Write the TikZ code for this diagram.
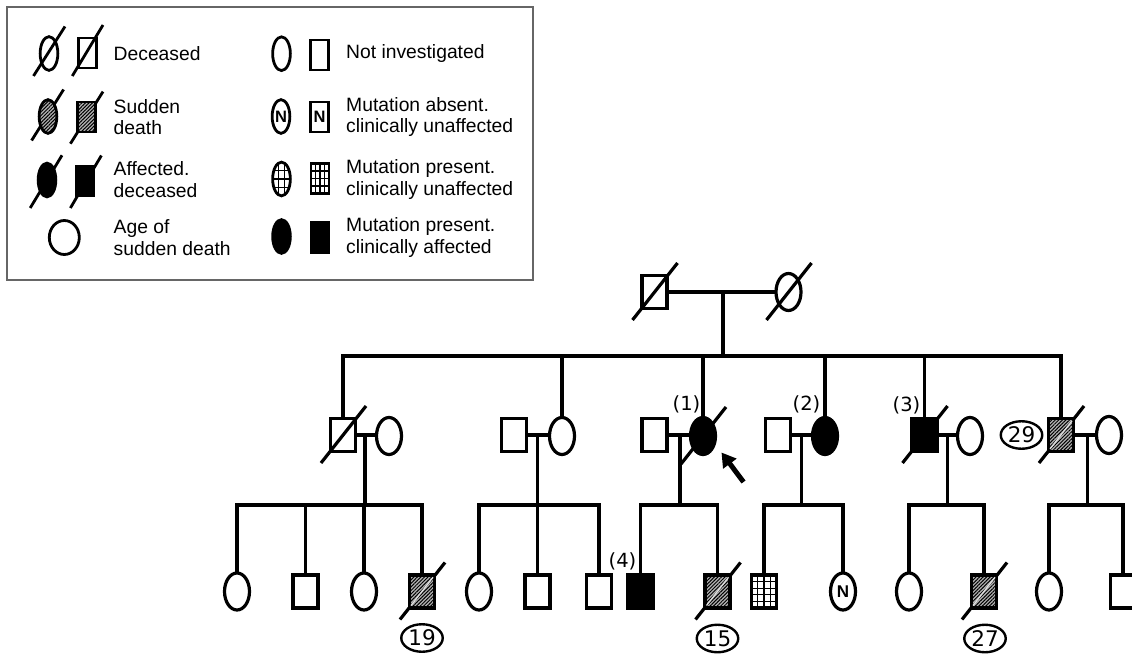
\documentclass[tikz,border=0pt]{standalone}
\usepackage{fontspec}
\setmainfont{Liberation Sans}
\newfontfamily\dvfont{DejaVu Sans}
\usetikzlibrary{shapes.geometric,patterns.meta,arrows.meta,calc}
\pgfdeclarelayer{bg}
\pgfsetlayers{bg,main}
\tikzset{
  base/.style={draw, inner sep=0pt, outer sep=0pt, line width=3.2pt},
  msq/.style={base, rectangle, minimum width=25pt, minimum height=33pt},
  fov/.style={base, ellipse, minimum width=25pt, minimum height=37pt},
  lsq/.style={base, rectangle, line width=2.8pt, minimum width=18pt, minimum height=30pt},
  lov/.style={base, ellipse, line width=2.8pt, minimum width=17.7pt, minimum height=33.7pt},
  aff/.style={fill=black},
  sud/.style={preaction={fill=gray!60}, pattern={Lines[angle=45,distance=2.5pt,line width=1pt]}, pattern color=black},
  gridfill/.style 2 args={path picture={
    \foreach \k in {1,...,#1}{
      \draw[line width=1.2pt] ($(path picture bounding box.north west)!{\k/(#1+1)}!(path picture bounding box.north east)$) -- ++(0,60);}
    \foreach \k in {1,...,#2}{
      \draw[line width=1.2pt] ($(path picture bounding box.north west)!{\k/(#2+1)}!(path picture bounding box.south west)$) -- ++(60,0);}
  }},
  link/.style={line width=3.2pt},
  slash/.style={line width=3.2pt},
  lslash/.style={line width=2.8pt},
  agebox/.style={draw, ellipse, line width=2.4pt, inner sep=0pt, minimum width=41.5pt, minimum height=27.5pt, font=\dvfont\fontsize{21.5}{21.5}\selectfont},
  numlab/.style={inner sep=0pt, font=\dvfont\fontsize{19.5}{19.5}\selectfont},
  ltext/.style={anchor=west, inner sep=0pt, align=left, font=\fontsize{19.3}{21.6}\selectfont},
  nmark/.style={font=\fontsize{16.5}{16.5}\selectfont\bfseries},
  frame/.style={draw=black!60, line width=1.6pt},
  probarrow/.style={line width=5pt, -{Triangle[length=14pt,width=16pt]}},
}
\newcommand\deadmark[1]{\begin{pgfonlayer}{bg}\draw[slash] ($(#1.center)+(-22,28)$) -- ($(#1.center)+(23,-29)$);\end{pgfonlayer}}
\newcommand\sudband[1]{\draw[white!75!gray, line width=1.3pt] ($(#1.center)+(-11,14)$) -- ($(#1.center)+(11,-14.2)$);}
\begin{document}
\begin{tikzpicture}[x=1pt,y=-1pt]
\useasboundingbox (0,0) rectangle (1132,655);
\clip (0,0) rectangle (1132,655);

% ---------------- Legend ----------------
\draw[frame] (7,7) rectangle (533,280);
\node[lov] (L1o) at (49,53.5) {};
\node[lsq] (L1s) at (87.3,53) {};
\node[lov,sud] (L2o) at (48,116.5) {};
\node[lsq,sud] (L2s) at (86.8,117) {};
\node[lov,aff] (L3o) at (47,180) {};
\node[lsq,aff] (L3s) at (85,181) {};
\node[base, ellipse, line width=2.8pt, minimum width=30pt, minimum height=34pt] (L4c) at (64.3,237.5) {};
\begin{pgfonlayer}{bg}
\draw[lslash] ($(L1o.center)+(-15.5,22.5)$) -- ($(L1o.center)+(16,-27)$);
\draw[lslash] ($(L1s.center)+(-15,23)$) -- ($(L1s.center)+(15.7,-28)$);
\draw[lslash] ($(L2o.center)+(-16.4,24)$) -- ($(L2o.center)+(15.6,-27)$);
\draw[lslash] ($(L2s.center)+(-16.4,26.7)$) -- ($(L2s.center)+(16.2,-25.4)$);
\draw[lslash] ($(L3o.center)+(-16.8,28)$) -- ($(L3o.center)+(15,-24.7)$);
\draw[lslash] ($(L3s.center)+(-14.6,27)$) -- ($(L3s.center)+(16.4,-25.5)$);
\end{pgfonlayer}

\node[lov] (R1o) at (281.5,53.7) {};
\node[lsq] (R1s) at (319.5,55) {};
\node[lov,nmark] (R2o) at (281,116.5) {N};
\node[lsq,nmark] (R2s) at (319.5,117) {N};
\node[lov,gridfill={2}{3}] (R3o) at (281.5,179) {};
\node[lsq,gridfill={3}{3}] (R3s) at (320,178.5) {};
\node[lov,aff] (R4o) at (281.5,236.5) {};
\node[lsq,aff] (R4s) at (320,237.5) {};

\node[ltext] (T1) at (113.5,53.5) {Deceased};
\node[ltext] (T2) at (113.5,117) {Sudden\\death};
\node[ltext] (T3) at (113.5,179.5) {Affected.\\deceased};
\node[ltext] (T4) at (113.5,237.5) {Age of\\sudden death};
\node[ltext] (U1) at (346,53.5) {Not investigated};
\node[ltext] (U2) at (346,117) {Mutation absent.\\clinically unaffected};
\node[ltext] (U3) at (346,179.5) {Mutation present.\\clinically unaffected};
\node[ltext] (U4) at (346,237.5) {Mutation present.\\clinically affected};

% ---------------- Generation I ----------------
\node[msq] (gf) at (654.5,292) {};
\node[fov] (gm) at (788.5,292) {};
\deadmark{gf}
\deadmark{gm}
\coordinate (m0) at (723,292);
\coordinate (s0) at (723,356);
\draw[link] (gf) -- (gm);
\draw[link] (m0) -- (s0);

% ---------------- Generation II ----------------
\node[msq] (A) at (343,435) {};
\node[fov] (Asp) at (389,436) {};
\node[msq] (Bsp) at (514,435) {};
\node[fov] (B) at (562,436) {};
\node[msq] (Csp) at (654.5,435) {};
\node[fov,aff] (C) at (703,436) {};
\node[msq] (Dsp) at (778,435) {};
\node[fov,aff] (D) at (825,436) {};
\node[msq,aff] (E) at (924.5,435) {};
\node[fov] (Esp) at (970,436) {};
\node[msq,sud] (F) at (1061,435) {};
\node[fov] (Fsp) at (1109,435) {};
\deadmark{A}
\deadmark{C}
\deadmark{E}
\deadmark{F}
\sudband{F}
\node[agebox] (age29) at (1021.5,435) {29};

\node[numlab] (lab1) at (686.5,404) {(1)};
\node[numlab] (lab2) at (806.5,404) {(2)};
\node[numlab] (lab3) at (906.5,405) {(3)};

\draw[link] (A.north) -- (A.north |- s0) -- (F.north |- s0) -- (F.north);
\draw[link] (B.north) -- (B.north |- s0);
\draw[link] (C.north) -- (C.north |- s0);
\draw[link] (D.north) -- (D.north |- s0);
\draw[link] (E.north) -- (E.north |- s0);

% mating lines
\draw[link] (A.east) -- (Asp.west |- A.east);
\draw[link] (Bsp.east) -- (B.west |- Bsp.east);
\draw[link] (Csp.east) -- (C.west |- Csp.east);
\draw[link] (Dsp.east) -- (D.west |- Dsp.east);
\draw[link] (E.east) -- (Esp.west |- E.east);
\draw[link] (F.east) -- (Fsp.west |- F.east);

% descent coordinates
\coordinate (dA) at (365,435);   \coordinate (lA) at (365,505);
\coordinate (dB) at (537.5,435); \coordinate (lB) at (537.5,505);
\coordinate (dC) at (680,435);   \coordinate (lC) at (680,505);
\coordinate (dD) at (801.7,435); \coordinate (lD) at (801.7,505);
\coordinate (dE) at (947.7,435); \coordinate (lE) at (947.7,505);
\coordinate (dF) at (1087.3,435); \coordinate (lF) at (1087.3,505);
\draw[link] (dA) -- (lA);
\draw[link] (dB) -- (lB);
\draw[link] (dC) -- (lC);
\draw[link] (dD) -- (lD);
\draw[link] (dE) -- (lE);
\draw[link] (dF) -- (lF);

% ---------------- Generation III ----------------
\node[fov] (A1) at (237,591.5) {};
\node[msq] (A2) at (305.5,591.5) {};
\node[fov] (A3) at (364,591.5) {};
\node[msq,sud] (A4) at (422,591.5) {};
\node[fov] (B1) at (479,591.5) {};
\node[msq] (B2) at (537.5,591.5) {};
\node[msq] (B3) at (599,591.5) {};
\node[msq,aff] (C1) at (640.5,591.5) {};
\node[msq,sud] (C2) at (717.5,591.5) {};
\node[msq,gridfill={3}{4}] (D1) at (764,591.5) {};
\node[fov,font=\fontsize{17}{17}\selectfont\bfseries] (D2) at (843,591.5) {N};
\node[fov] (E1) at (909,591.5) {};
\node[msq,sud] (E2) at (984,591.5) {};
\node[fov] (F1) at (1049,591.5) {};
\node[msq] (F2) at (1123,591.5) {};
\deadmark{A4}
\deadmark{C2}
\deadmark{E2}
\sudband{A4}
\sudband{C2}
\sudband{E2}
\node[agebox] (age19) at (422,638) {19};
\node[agebox] (age15) at (717.5,638.5) {15};
\node[agebox] (age27) at (985,638.5) {27};
\node[numlab] (lab4) at (622.5,561) {(4)};

\draw[link] (A1.north) -- (A1.north |- lA) -- (A4.north |- lA) -- (A4.north);
\draw[link] (A2.north) -- (A2.north |- lA);
\draw[link] (A3.north) -- (A3.north |- lA);
\draw[link] (B1.north) -- (B1.north |- lB) -- (B3.north |- lB) -- (B3.north);
\draw[link] (B2.north) -- (B2.north |- lB);
\draw[link] (C1.north) -- (C1.north |- lC) -- (C2.north |- lC) -- (C2.north);
\draw[link] (D1.north) -- (D1.north |- lD) -- (D2.north |- lD) -- (D2.north);
\draw[link] (E1.north) -- (E1.north |- lE) -- (E2.north |- lE) -- (E2.north);
\draw[link] (F1.north) -- (F1.north |- lF) -- (F2.north |- lF) -- (F2.north);

% proband arrow
\coordinate (arT) at (743.5,482);
\coordinate (arH) at (721.5,452.5);
\draw[probarrow] (arT) -- (arH);
\end{tikzpicture}
\end{document}
